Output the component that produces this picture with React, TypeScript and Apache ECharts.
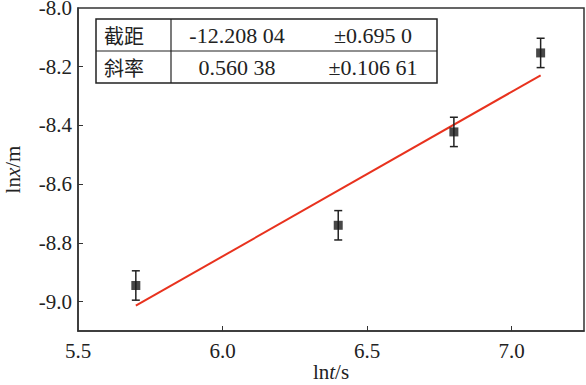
import React, { useEffect, useRef } from "react";
import * as echarts from "echarts";

const xValues = [5.70, 6.40, 6.80, 7.10];
const yValues = [-8.945, -8.74, -8.422, -8.153];
const yErrors = [0.05, 0.05, 0.05, 0.05];
const slope = 0.56038;
const intercept = -12.20804;
const fitX = [5.70, 7.10];
const xTicks = [6.0, 6.5, 7.0];
const xLabels = [5.5, 6.0, 6.5, 7.0];
const yTicks = [-9.0, -8.8, -8.6, -8.4, -8.2];
const yLabels = [-9.0, -8.8, -8.6, -8.4, -8.2, -8.0];
const tableRows = [
  ["截距", "-12.208 04", "±0.695 0"],
  ["斜率", "0.560 38", "±0.106 61"],
];

const SERIF = "Liberation Serif";
const CJK = "Noto Sans CJK SC";
const INK = "#222";

export default function App() {
  const ref = useRef<HTMLDivElement>(null);
  useEffect(() => {
    if (!ref.current) return;
    const chart = echarts.init(ref.current, undefined, { renderer: "svg" });
    const fitData = fitX.map((x) => [x, intercept + slope * x]);
    const pts = xValues.map((x, i) => [x, yValues[i]]);
    const errData = xValues.map((x, i) => [x, yValues[i] - yErrors[i], yValues[i] + yErrors[i]]);
    const axisColor = "#333";
    const tableLeft = 96, tableTop = 19, tableW = 341, tableH = 64, divX = 171;
    const graphic: any[] = [
      { type: "rect", shape: { x: tableLeft, y: tableTop, width: tableW, height: tableH }, style: { fill: "#fff", stroke: INK, lineWidth: 1.5 }, z: 100 },
      { type: "line", shape: { x1: tableLeft, y1: tableTop + tableH / 2, x2: tableLeft + tableW, y2: tableTop + tableH / 2 }, style: { stroke: INK, lineWidth: 1.2 }, z: 101 },
      { type: "line", shape: { x1: divX, y1: tableTop, x2: divX, y2: tableTop + tableH }, style: { stroke: INK, lineWidth: 1.2 }, z: 101 },
    ];
    const colX = [124, 237, 373];
    const tableRich = {
      c: { fontFamily: CJK, fontSize: 20, color: INK },
      s: { fontFamily: SERIF, fontSize: 22, color: INK },
    };
    tableRows.forEach((row, r) => {
      row.forEach((txt, c) => {
        graphic.push({
          type: "text",
          x: colX[c],
          y: tableTop + tableH / 4 + (r * tableH) / 2,
          z: 102,
          style: {
            text: `{${c === 0 ? "c" : "s"}|${txt}}`,
            rich: tableRich,
            fontFamily: c === 0 ? CJK : SERIF,
            fontSize: c === 0 ? 20 : 22,
            fill: INK,
            align: "center",
            verticalAlign: "middle",
          },
        });
      });
    });
    const nameRich = {
      a: { fontFamily: SERIF, fontSize: 21, color: INK },
      i: { fontFamily: SERIF, fontSize: 21, fontStyle: "italic", color: INK },
    };
    const labelRich = { n: { fontFamily: SERIF, fontSize: 21, color: INK } };
    chart.setOption({
      animation: false,
      backgroundColor: "#fff",
      textStyle: { fontFamily: SERIF },
      grid: {
        left: 78, top: 8, right: 2, bottom: 54,
        outerBoundsMode: "none",
        containLabel: false,
        show: true, borderColor: axisColor, borderWidth: 1.5,
      },
      xAxis: {
        type: "value",
        min: 5.5,
        max: 7.25,
        name: "{a|ln}{i|t}{a|/s}",
        nameLocation: "middle",
        nameMoveOverlap: false,
        nameGap: 30,
        nameTextStyle: { rich: nameRich },
        axisLine: { lineStyle: { color: axisColor, width: 1.5 } },
        axisTick: { inside: true, length: 5, customValues: xTicks, lineStyle: { color: axisColor } },
        splitLine: { show: false },
        axisLabel: {
          customValues: xLabels,
          fontFamily: SERIF,
          fontSize: 21,
          color: INK,
          margin: 9,
          rich: labelRich,
          formatter: (v: number) => `{n|${v.toFixed(1)}}`,
        },
      },
      yAxis: {
        type: "value",
        min: -9.1,
        max: -8.0,
        name: "{a|ln}{i|x}{a|/m}",
        nameLocation: "middle",
        nameGap: 55,
        nameRotate: 90,
        nameTextStyle: { rich: nameRich },
        axisLine: { lineStyle: { color: axisColor, width: 1.5 } },
        axisTick: { inside: true, length: 5, customValues: yTicks, lineStyle: { color: axisColor } },
        splitLine: { show: false },
        axisLabel: {
          customValues: yLabels,
          fontFamily: SERIF,
          fontSize: 21,
          color: INK,
          margin: 6,
          rich: labelRich,
          formatter: (v: number) => `{n|${v.toFixed(1)}}`,
        },
      },
      series: [
        {
          type: "line",
          data: fitData,
          symbol: "none",
          lineStyle: { color: "#e8321e", width: 2 },
          z: 3,
        },
        {
          type: "custom",
          data: errData,
          z: 4,
          renderItem: (params: any, api: any) => {
            const x = api.value(0);
            const lo = api.coord([x, api.value(1)]);
            const hi = api.coord([x, api.value(2)]);
            const cap = 4;
            const style = { stroke: INK, lineWidth: 1.5 };
            return {
              type: "group",
              children: [
                { type: "line", shape: { x1: lo[0], y1: lo[1], x2: hi[0], y2: hi[1] }, style },
                { type: "line", shape: { x1: lo[0] - cap, y1: lo[1], x2: lo[0] + cap, y2: lo[1] }, style },
                { type: "line", shape: { x1: hi[0] - cap, y1: hi[1], x2: hi[0] + cap, y2: hi[1] }, style },
              ],
            };
          },
        },
        {
          type: "scatter",
          data: pts,
          symbol: "rect",
          symbolSize: 9,
          itemStyle: { color: "#1a1a1a" },
          z: 5,
        },
      ],
      graphic,
    });
    return () => chart.dispose();
  }, []);
  return (
    <div
      ref={ref}
      style={{ position: "fixed", left: 0, top: 0, width: 586, height: 385 }}
    />
  );
}
